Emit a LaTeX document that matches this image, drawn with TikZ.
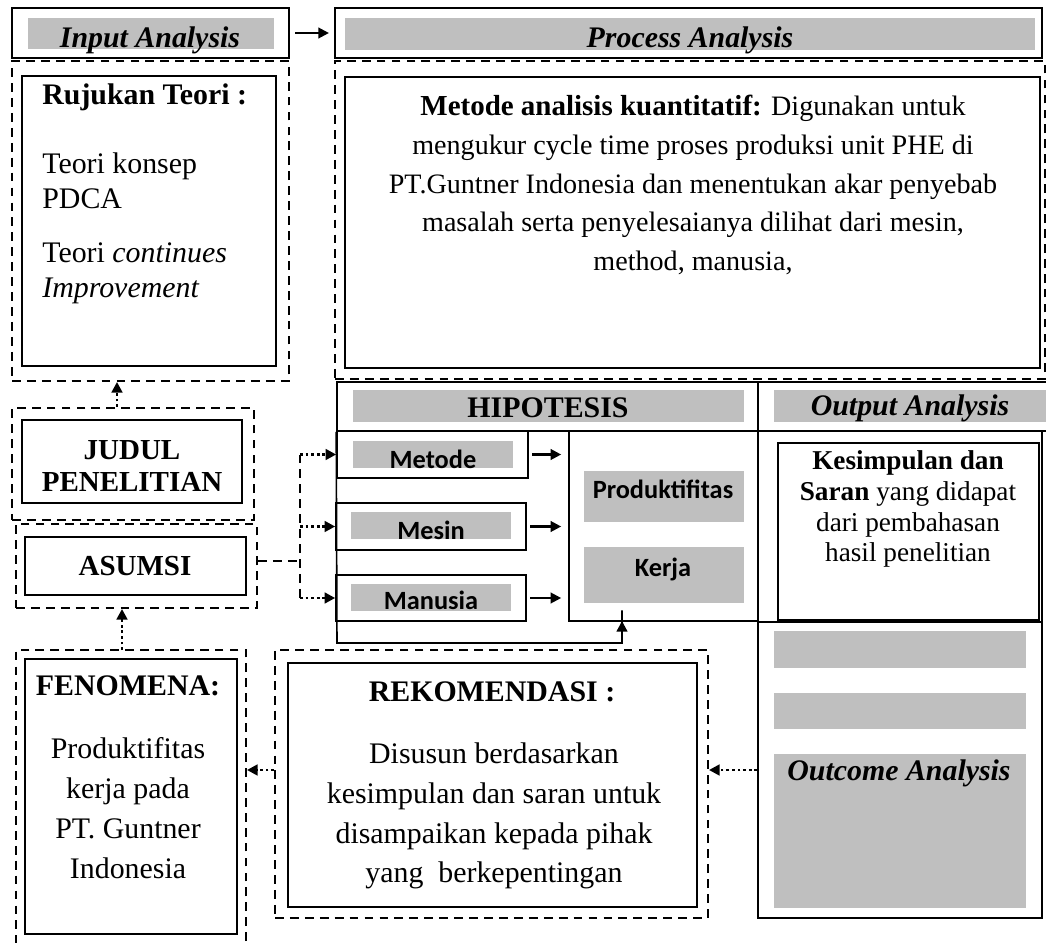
\documentclass[tikz,border=0pt]{standalone}
\usepackage{fontspec}
\setmainfont{Liberation Serif}
\newfontfamily\calibri{Carlito}
\usetikzlibrary{arrows.meta,positioning,fit}

\definecolor{barfill}{HTML}{BFBFBF}

\begin{document}
\begin{tikzpicture}[x=0.02cm,y=-0.02cm,
  frame/.style={draw,line width=0.9pt,inner sep=0pt},
  dframe/.style={draw,line width=1.1pt,dash pattern=on 5pt off 3.5pt,inner sep=0pt},
  bar/.style={fill=barfill,inner sep=0pt},
  arr/.style={line width=1.3pt,-{Triangle[length=6pt,width=6pt]}},
  dotarr/.style={line width=1.6pt,dash pattern=on 1.6pt off 1.6pt,-{Triangle[length=6pt,width=6pt]}},
  dline/.style={line width=1.1pt,dash pattern=on 5pt off 3.5pt},
  serif/.style={font=\fontsize{17}{20}\selectfont,inner sep=0pt},
  head/.style={font=\fontsize{17}{20}\selectfont\bfseries\itshape,inner sep=0pt},
  sans/.style={font=\calibri\fontsize{15}{18}\selectfont\bfseries,inner sep=0pt}]
\useasboundingbox (0,0) rectangle (1046,943);

% input and process headers
\node[frame,fit={(12,8) (289,58)}] (inhead) {};
\node[bar,fit={(28,18) (274,49)}] (inbar) {};
\node[head] (inlbl) at (150,40) {Input Analysis};
\node[frame,fit={(335,8) (1042,58)}] (prochead) {};
\node[bar,fit={(345,18) (1035,50)}] (procbar) {};
\node[head] (proclbl) at (690,40) {Process Analysis};
\draw[arr,shorten <=3pt,shorten >=3pt] (inhead.east) -- (prochead.west);

% input analysis
\node[dframe,fit={(12,61) (289,381)}] (inD) {};
\node[frame,fit={(22,76) (276,366)}] (inbox) {};
\node[serif,anchor=west] (rujukan) at (42,97) {\textbf{Rujukan Teori :}};
\node[serif,anchor=west,align=left,font=\fontsize{17}{20}\selectfont] (pdca) at (42,181) {Teori konsep\\PDCA};
\node[serif,anchor=west,align=left,font=\fontsize{17}{20}\selectfont] (ci) at (42,273) {Teori \textit{continues}\\\textit{Improvement}};

% process analysis
\node[dframe,fit={(335,61) (1045,379)}] (procD) {};
\node[frame,fit={(345,77) (1040,368)}] (procbox) {};
\node[serif,align=center,font=\fontsize{16}{22.1}\selectfont] (metodetxt) at (693,185)
  {\textbf{\fontsize{16.5}{22.1}\selectfont Metode analisis kuantitatif:} Digunakan untuk\\
   mengukur cycle time proses produksi unit PHE di\\
   PT.Guntner Indonesia dan menentukan akar penyebab\\
   masalah serta penyelesaianya dilihat dari mesin,\\
   method, manusia,};

% judul, asumsi, fenomena
\node[dframe,fit={(12,408) (254,520)}] (judulD) {};
\node[frame,fit={(22,420) (242,503)}] (judulbox) {};
\node[serif,align=center,font=\fontsize{16.5}{18.7}\selectfont\bfseries] (judullbl) at (132,466) {JUDUL\\PENELITIAN};
\node[dframe,fit={(16,524) (257,608)}] (asD) {};
\node[frame,fit={(25,537) (246,595)}] (asbox) {};
\node[serif,font=\fontsize{16.5}{20}\selectfont\bfseries] (aslbl) at (135,566) {ASUMSI};
\node[dframe,fit={(16,650) (246,950)}] (fenD) {};
\node[frame,fit={(25,659) (237,934)}] (fenbox) {};
\node[serif,font=\fontsize{17}{20}\selectfont\bfseries] (fenlbl) at (128,686) {FENOMENA:};
\node[serif,align=center,font=\fontsize{17}{22.7}\selectfont] (fentxt) at (128,808)
  {Produktifitas\\kerja pada\\PT. Guntner\\Indonesia};

% hipotesis
\node[frame,fit={(337,382) (758,431)}] (hiphead) {};
\node[bar,fit={(353,390) (744,422)}] (hipbar) {};
\node[serif,font=\fontsize{17}{20}\selectfont\bfseries] (hiplbl) at (548,408) {HIPOTESIS};
\node[frame,fit={(337,431) (528,478)}] (metode) {};
\node[bar,fit={(353,441) (513,468)}] (metodebar) {};
\node[sans] (metodelbl) at (433,459) {Metode};
\node[frame,fit={(336,503) (526,550)}] (mesin) {};
\node[bar,fit={(351,512) (511,539)}] (mesinbar) {};
\node[sans] (mesinlbl) at (431,530) {Mesin};
\node[frame,fit={(336,575) (526,621)}] (manusia) {};
\node[bar,fit={(351,584) (511,611)}] (manusiabar) {};
\node[sans] (manusialbl) at (431,600) {Manusia};
\node[frame,fit={(569,431) (758,621)}] (prod) {};
\node[bar,fit={(584,471) (744,522)}] (prodbar) {};
\node[bar,fit={(584,547) (744,603)}] (kerjabar) {};
\node[sans] (prodlbl) at (663,489) {Produktifitas};
\node[sans] (kerjalbl) at (663,569) {Kerja};
\foreach \n in {metode,mesin,manusia}
  \draw[arr,shorten <=2pt,shorten >=4pt] (\n.east) -- (\n.east -| prod.west);
\coordinate (loopc) at (337,643);
\coordinate (prodin) at (622,621);
\draw[line width=0.9pt] (hiphead.south west) -- (loopc) -| ([yshift=6pt]prodin);
\draw[arr] (loopc -| prodin) -- (prodin);

% output and outcome
\node[frame,fit={(758,382) (1050,431)}] (outhead) {};
\node[bar,fit={(774,390) (1046,422)}] (outbar) {};
\node[head] (outlbl) at (910,408) {Output Analysis};
\node[frame,fit={(758,431) (1042,622)}] (outbody) {};
\node[frame,fit={(778,443) (1039,620)}] (kesbox) {};
\node[serif,align=center,font=\fontsize{15.5}{17.6}\selectfont] (kestxt) at (908,509)
  {\textbf{Kesimpulan dan}\\\textbf{Saran} yang didapat\\dari pembahasan\\hasil penelitian};
\node[frame,fit={(758,622) (1042,918)}] (outc) {};
\node[bar,fit={(774,631) (1026,668)}] (outcbar1) {};
\node[bar,fit={(774,693) (1026,729)}] (outcbar2) {};
\node[bar,fit={(774,754) (1026,908)}] (outcbar3) {};
\node[head] (outclbl) at (899,773) {Outcome Analysis};

% rekomendasi
\node[dframe,fit={(275,650) (708,918)}] (rekD) {};
\node[frame,fit={(288,663) (697,907)}] (rekbox) {};
\node[serif,font=\fontsize{17}{20}\selectfont\bfseries] (reklbl) at (492,692) {REKOMENDASI :};
\node[serif,align=center,font=\fontsize{17}{22.7}\selectfont] (rektxt) at (494,816)
  {Disusun berdasarkan\\kesimpulan dan saran untuk\\disampaikan kepada pihak\\yang\ \ berkepentingan};

% dotted links
\coordinate (j1) at (117,407);
\draw[dotarr] (j1) -- (j1 |- inD.south);
\coordinate (f1) at (122,650);
\draw[dotarr] (f1) -- (f1 |- asD.south);
\coordinate (bus) at (300,561);
\draw[dline] (asD.east |- bus) -- (bus);
\draw[dline] (bus |- metode.west) -- (bus |- manusia.west);
\foreach \n in {metode,mesin,manusia}
  \draw[dotarr] (bus |- \n.west) -- (\n.west);
\draw[dotarr] (outc.west) -- (outc.west -| rekD.east);
\draw[dotarr] (rekD.west |- outc.west) -- (fenD.east |- outc.west);
\end{tikzpicture}
\end{document}
